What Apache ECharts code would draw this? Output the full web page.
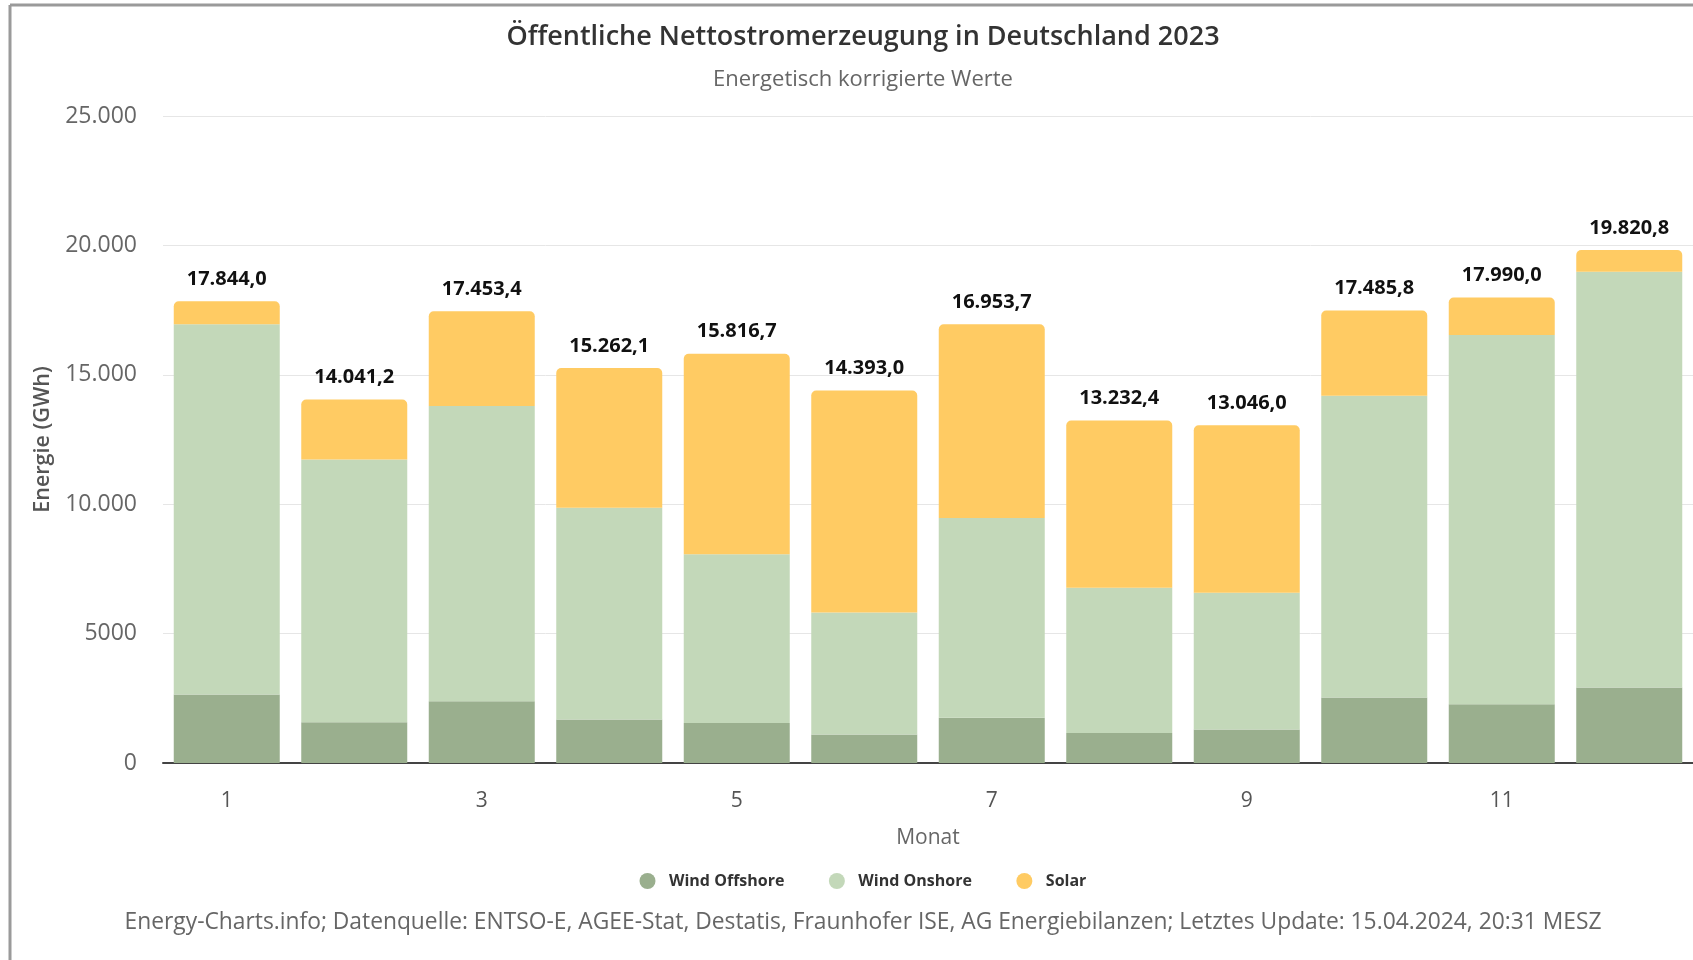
<!DOCTYPE html>
<html>
<head>
<meta charset="utf-8">
<script src="https://cdn.jsdelivr.net/npm/echarts@6/dist/echarts.min.js"></script>
<style>
  html, body { margin: 0; padding: 0; background: #ffffff; }
  #chart { width: 1693px; height: 960px; }
</style>
</head>
<body>
<div id="chart"></div>
<script>
const months = ['1', '2', '3', '4', '5', '6', '7', '8', '9', '10', '11', '12'];
const windOffshore = [2650, 1576, 2390, 1680, 1550, 1098, 1744, 1163, 1292, 2529, 2270, 2917];
const windOnshore = [14300, 10155, 11408, 8178, 6512, 4716, 7726, 5607, 5284, 11666, 14267, 16063];
const solar = [894.0, 2310.2, 3655.4, 5404.1, 7754.7, 8579.0, 7483.7, 6462.4, 6470.0, 3290.8, 1453.0, 840.8];
const totalLabels = ['17.844,0', '14.041,2', '17.453,4', '15.262,1', '15.816,7', '14.393,0', '16.953,7', '13.232,4', '13.046,0', '17.485,8', '17.990,0', '19.820,8'];
const yTickLabels = ['0', '5000', '10.000', '15.000', '20.000', '25.000'];

const FONT = '"Open Sans", "Liberation Sans", sans-serif';
const chart = echarts.init(document.getElementById('chart'), null, { renderer: 'canvas' });

const barBase = {
  type: 'bar',
  stack: 'total',
  barWidth: 106,
  emphasis: { disabled: true }
};

chart.setOption({
  animation: false,
  backgroundColor: '#ffffff',
  textStyle: { fontFamily: FONT },
  grid: { left: 163, right: -4, top: 116, bottom: 197, containLabel: false },
  legend: {
    left: 634.5,
    top: 868,
    icon: 'circle',
    itemWidth: 33,
    itemHeight: 16,
    itemGap: 44.5,
    textStyle: { fontFamily: FONT, fontSize: 16, fontWeight: 'bold', color: '#333333' },
    data: ['Wind Offshore', 'Wind Onshore', 'Solar']
  },
  xAxis: {
    type: 'category',
    data: months,
    name: 'Monat',
    nameLocation: 'middle',
    nameGap: 65,
    nameTextStyle: { fontFamily: FONT, fontSize: 21, color: '#666666' },
    axisLine: { show: true, lineStyle: { color: '#444444', width: 2 } },
    axisTick: { show: false },
    axisLabel: { interval: 1, margin: 28, fontFamily: FONT, fontSize: 21, color: '#555555' }
  },
  yAxis: {
    type: 'value',
    min: 0,
    max: 25000,
    interval: 5000,
    name: 'Energie (GWh)',
    nameLocation: 'middle',
    nameGap: 105,
    nameTextStyle: { fontFamily: FONT, fontSize: 21.5, fontWeight: 600, color: '#555555' },
    axisLine: { show: false },
    axisTick: { show: false },
    splitLine: { lineStyle: { color: '#e6e6e6', width: 1 } },
    axisLabel: {
      margin: 26,
      fontFamily: FONT,
      fontSize: 23,
      color: '#666666',
      formatter: function (v) { return yTickLabels[Math.round(v / 5000)]; }
    }
  },
  series: [
    Object.assign({}, barBase, {
      name: 'Wind Offshore',
      data: windOffshore,
      itemStyle: { color: '#9aaf8e' }
    }),
    Object.assign({}, barBase, {
      name: 'Wind Onshore',
      data: windOnshore,
      itemStyle: { color: '#c3d8b9' }
    }),
    Object.assign({}, barBase, {
      name: 'Solar',
      data: solar,
      itemStyle: { color: '#ffcb63', borderRadius: [5, 5, 0, 0] },
      label: {
        show: true,
        position: 'top',
        distance: 12,
        fontFamily: FONT,
        fontSize: 20,
        fontWeight: 'bold',
        color: '#111111',
        formatter: function (p) { return totalLabels[p.dataIndex]; }
      }
    })
  ],
  graphic: [
    {
      type: 'line',
      shape: { x1: 10, y1: 5, x2: 10, y2: 960 },
      style: { stroke: '#9a9a9a', lineWidth: 3 },
      silent: true
    },
    {
      type: 'line',
      shape: { x1: 10, y1: 5, x2: 1693, y2: 5 },
      style: { stroke: '#9a9a9a', lineWidth: 3 },
      silent: true
    },
    {
      type: 'text',
      x: 863, y: 37,
      style: {
        text: 'Öffentliche Nettostromerzeugung in Deutschland 2023',
        fontFamily: FONT, fontSize: 27, fontWeight: 600, fill: '#333333',
        align: 'center', verticalAlign: 'middle'
      }
    },
    {
      type: 'text',
      x: 863, y: 80,
      style: {
        text: 'Energetisch korrigierte Werte',
        fontFamily: FONT, fontSize: 22, fill: '#666666',
        align: 'center', verticalAlign: 'middle'
      }
    },
    {
      type: 'text',
      x: 863, y: 923,
      style: {
        text: 'Energy-Charts.info; Datenquelle: ENTSO-E, AGEE-Stat, Destatis, Fraunhofer ISE, AG Energiebilanzen; Letztes Update: 15.04.2024, 20:31 MESZ',
        fontFamily: FONT, fontSize: 22.8, fill: '#666666',
        align: 'center', verticalAlign: 'middle'
      }
    }
  ]
});
</script>
</body>
</html>
